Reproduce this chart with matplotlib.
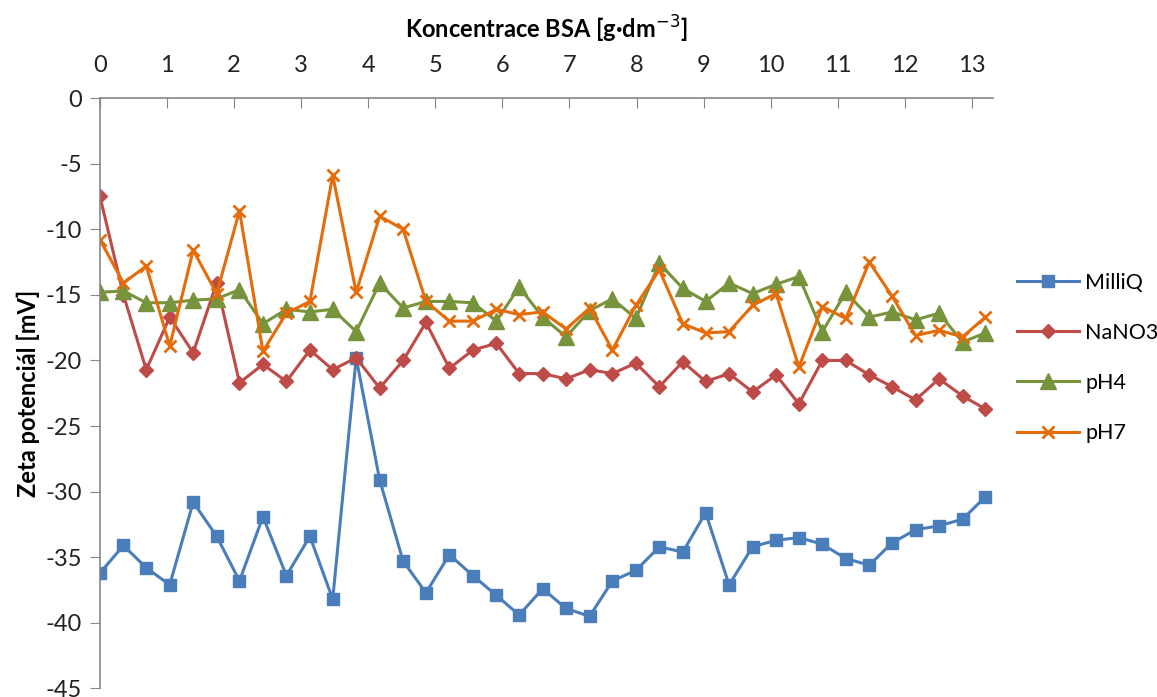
import matplotlib.pyplot as plt

plt.rcParams['font.family'] = ['Lato', 'DejaVu Sans']
plt.rcParams['axes.unicode_minus'] = False

# concentration of BSA [g/dm3]
konc = [0.00, 0.35, 0.69, 1.04, 1.39, 1.74, 2.08, 2.43, 2.78, 3.13,
        3.47, 3.82, 4.17, 4.52, 4.86, 5.21, 5.56, 5.91, 6.25, 6.60,
        6.95, 7.30, 7.64, 7.99, 8.34, 8.69, 9.03, 9.38, 9.73, 10.08,
        10.42, 10.77, 11.12, 11.47, 11.81, 12.16, 12.51, 12.86, 13.20]

milliq = [-36.2, -34.1, -35.8, -37.1, -30.8, -33.4, -36.8, -31.9, -36.4, -33.4,
          -38.2, -19.8, -29.1, -35.3, -37.7, -34.8, -36.4, -37.9, -39.4, -37.4,
          -38.9, -39.5, -36.8, -36.0, -34.2, -34.6, -31.6, -37.1, -34.2, -33.7,
          -33.5, -34.0, -35.1, -35.6, -33.9, -32.9, -32.6, -32.1, -30.4]

nano3 = [-7.5, -15.0, -20.7, -16.7, -19.4, -14.1, -21.7, -20.3, -21.6, -19.2,
         -20.7, -19.8, -22.1, -20.0, -17.1, -20.6, -19.2, -18.7, -21.0, -21.0,
         -21.4, -20.7, -21.0, -20.2, -22.0, -20.1, -21.6, -21.0, -22.4, -21.1,
         -23.3, -20.0, -20.0, -21.1, -22.0, -23.0, -21.4, -22.7, -23.7]

ph4 = [-14.8, -14.7, -15.6, -15.6, -15.4, -15.3, -14.6, -17.2, -16.1, -16.3,
       -16.1, -17.8, -14.1, -16.0, -15.5, -15.5, -15.6, -17.0, -14.4, -16.7,
       -18.2, -16.2, -15.3, -16.8, -12.6, -14.5, -15.5, -14.1, -14.9, -14.2,
       -13.6, -17.8, -14.8, -16.7, -16.3, -16.9, -16.4, -18.6, -17.9]

ph7 = [-10.8, -14.1, -12.8, -18.9, -11.6, -14.9, -8.6, -19.3, -16.4, -15.5,
       -5.9, -14.8, -9.0, -10.0, -15.5, -17.0, -17.0, -16.1, -16.5, -16.3,
       -17.6, -16.0, -19.2, -15.8, -13.1, -17.2, -17.9, -17.8, -15.8, -14.9,
       -20.5, -15.9, -16.8, -12.5, -15.1, -18.1, -17.7, -18.2, -16.7]

fig = plt.figure(figsize=(11.57, 6.97), dpi=100)
ax = fig.add_axes([0.0864, 0.0122, 0.7716, 0.8471])

ax.plot(konc, milliq, color='#4A7EBB', marker='s', markersize=9, lw=2.2, label='MilliQ')
ax.plot(konc, nano3, color='#BE4B48', marker='D', markersize=7, lw=2.2, label='NaNO3')
ax.plot(konc, ph4, color='#77933C', marker='^', markersize=11, lw=2.2, label='pH4')
ax.plot(konc, ph7, color='#E46C0A', marker='x', markersize=9, mew=2, lw=2.2, label='pH7')

ax.set_xlim(0, 13.31)
ax.set_ylim(-45, 0)
ax.set_xticks(range(0, 14))
ax.set_yticks(range(-45, 1, 5))

ax.xaxis.set_ticks_position('top')
ax.xaxis.set_label_position('top')
ax.spines['bottom'].set_visible(False)
ax.spines['right'].set_visible(False)
for s in ['top', 'left']:
    ax.spines[s].set_color('#868686')
    ax.spines[s].set_linewidth(1.2)

ax.tick_params(axis='x', direction='in', length=7, color='#868686', labelsize=17,
               pad=16, labelcolor='#222222')
ax.tick_params(axis='y', direction='out', length=7, color='#868686', labelsize=17,
               pad=6, labelcolor='#222222')

ax.set_xlabel('Koncentrace BSA [g·dm$^{-3}$]', fontsize=17, fontweight='bold', labelpad=12)
ax.set_ylabel('Zeta potenciál [mV]', fontsize=17, fontweight='bold', labelpad=4)

ax.legend(loc='center left', bbox_to_anchor=(1.005, 0.56), frameon=False,
          fontsize=15.5, handlelength=2.9, labelspacing=1.4, handletextpad=0.3)

fig.savefig('out.png', dpi=100)
